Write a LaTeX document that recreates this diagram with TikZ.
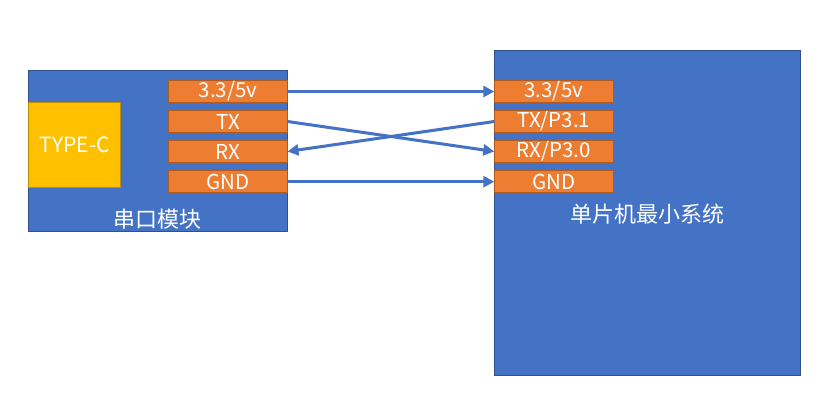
\documentclass[tikz,border=0pt]{standalone}
\usepackage{fontspec}
\setmainfont{Noto Sans CJK SC}
\usepackage{xcolor}
\usepackage{tikz}
\usetikzlibrary{calc, arrows.meta, positioning}

\definecolor{boardblue}{HTML}{4472C4}
\definecolor{boardedge}{HTML}{2F528F}
\definecolor{pinorange}{HTML}{ED7D31}
\definecolor{pinedge}{HTML}{AE5A21}
\definecolor{usbyellow}{HTML}{FFC000}
\definecolor{usbedge}{HTML}{BC8C00}

\begin{document}
\begin{tikzpicture}[x=1pt, y=-1pt,
    >={Triangle[length=11pt, width=11pt]},
    board/.style={draw=boardedge, fill=boardblue, line width=1pt, inner sep=0pt, outer sep=0pt},
    pin/.style={draw=pinedge, fill=pinorange, line width=1pt, inner sep=0pt, outer sep=0pt,
        minimum width=119pt, minimum height=21.6pt, text=white, font=\fontsize{20.5}{20.5}\selectfont},
    wire/.style={->, draw=boardblue, line width=3pt}]
    \useasboundingbox (0,0) rectangle (836,398);

    % 1. Mô-đun nối tiếp (bên trái)
    \node[board, minimum width=258.7pt, minimum height=161.3pt] (usart) at (158.3,151.3) {};
    \node[draw=usbedge, fill=usbyellow, line width=1pt, inner sep=0pt, outer sep=0pt,
        minimum width=91.7pt, minimum height=85pt, text=white,
        font=\fontsize{21}{21}\selectfont] (typec) at (74.8,144.8) {TYPE-C};
    \node[pin] (lvcc) at (228,91.5) {3.3/5v};
    \node[pin] (ltx) at (228,121.5) {TX};
    \node[pin] (lrx) at (228,151.5) {RX};
    \node[pin] (lgnd) at (228,181.7) {GND};
    \node[text=white, font=\fontsize{22}{22}\selectfont] (usartname) at (157,219) {串口模块};

    % 2. Hệ thống tối thiểu (bên phải)
    \node[board, minimum width=306.4pt, minimum height=325.3pt] (mcu) at (647.5,213.3) {};
    \node[pin] (rvcc) at (553.8,91.5) {3.3/5v};
    \node[pin] (rtx) at (553.8,121.5) {TX/P3.1};
    \node[pin] (rrx) at (553.8,151.5) {RX/P3.0};
    \node[pin] (rgnd) at (553.8,181.7) {GND};
    \node[text=white, font=\fontsize{22}{22}\selectfont] (mcuname) at (647,214) {单片机最小系统};

    % 3. Dây nối
    \draw[wire] (lvcc.east) -- (rvcc.west);
    \draw[wire] (ltx.east) -- (rrx.west);
    \draw[wire] (rtx.west) -- (lrx.east);
    \draw[wire] (lgnd.east) -- (rgnd.west);
\end{tikzpicture}
\end{document}
